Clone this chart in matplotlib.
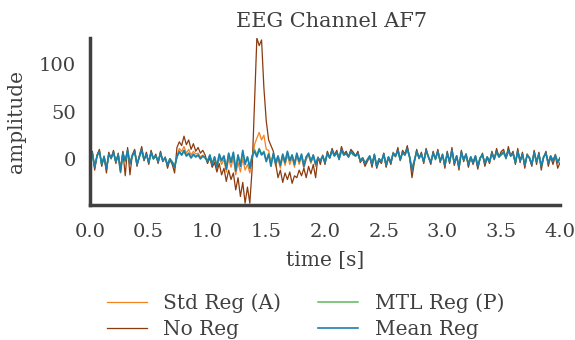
import numpy as np
import matplotlib
matplotlib.use("Agg")
import matplotlib.pyplot as plt

# time axis: 201 samples from 0 to 4 s
t_start, t_end, n_samples = 0.0, 4.0, 201

std_reg = [
    -5, 7, -10, 4, 9, -7, 2, -12, 6, 0,
    8, -4, 5, -15, 7, -3, 10, -6, 4, 9,
    -7, 3, 11, -2, 6, -5, 8, 0, 4, -4,
    7, -3, 1, -8, 0, -5, -10, 3, 11, 8,
    13, 6, 10, 4, 8, 5, 6, 2, 4, 2,
    -4, 2, -8, 0, -11, 1, -6, -1, -14, 0,
    -9, 1, -17, -4, -14, 0, -12, -6, -15, -2,
    15, 22, 28, 20, 25, 10, 9, -4, 4, -8,
    0, -10, 2, -7, 4, -6, 1, -9, 3, -6,
    2, -10, -1, 4, -5, 3, -8, 0, -3, 3,
    -5, 7, 1, 10, 4, 8, 0, 12, 5, 7,
    2, 9, 6, 3, 7, -3, 1, -6, -2, 3,
    -7, 5, -9, 0, -4, 6, -8, 2, -5, 7,
    3, 11, -1, 8, 5, 12, 2, -14, -3, 9,
    1, 6, -4, 10, 2, -5, 7, 0, 9, -3,
    5, -8, 7, -4, 10, -6, 3, -10, 8, -2,
    5, -7, 2, -5, 3, -9, 1, 5, -6, 2,
    -4, 7, 0, 9, 2, 6, 8, 1, 10, 3,
    7, -5, 9, -3, 6, -8, 5, 1, -7, 8,
    -4, 6, -9, 2, 7, -6, 3, -3, 5, -5, 1,
]

no_reg = [
    -6, 8, -12, 4, 10, -8, 3, -15, 7, 0,
    9, -5, 6, -10, 8, -18, 12, -17, 4, 10,
    -8, 3, 13, -2, 7, -6, 9, 0, 5, -5,
    8, -3, 2, -10, -1, -6, -15, 12, 18, 14,
    24, 15, 20, 10, 16, 8, 12, 6, 9, 4,
    -5, 1, -9, -4, -14, -5, -17, -10, -24, -12,
    -22, -15, -33, -20, -40, -25, -47, -30, -47, -10,
    60, 128, 120, 126, 75, 40, 20, 14, 8, -5,
    -20, -12, -25, -15, -22, -14, -26, -18, -20, -12,
    -18, -10, -20, -8, -16, -6, -20, 2, -6, 4,
    -6, 8, 1, 11, 4, 9, -1, 13, 5, 8,
    2, 10, 7, 3, 8, -4, 0, -8, -3, 2,
    -9, 5, -10, -2, -5, 6, -9, 1, -6, 6,
    2, 12, -2, 9, 5, 14, 1, -20, -4, 10,
    0, 7, -5, 11, 2, -6, 8, -1, 10, -4,
    5, -10, 8, -5, 12, -7, 3, -12, 9, -3,
    5, -9, 1, -6, 2, -11, 0, 6, -8, 1,
    -5, 8, -1, 11, 2, 8, 10, 0, 13, 3,
    8, -6, 11, -4, 7, -10, 5, 0, -8, 9,
    -6, 7, -12, 1, 8, -8, 2, -6, 3, -10, -4,
]

mtl_reg = [
    -3, 5, -8, 3, 7, -5, 2, -9, 4, 1,
    6, -3, 4, -12, 5, -2, 8, -4, 3, 7,
    -5, 2, 8, -1, 4, -3, 6, 0, 3, -2,
    5, -2, 1, -6, 0, -3, -7, 2, 7, 4,
    8, 3, 5, 1, 4, 2, 4, 0, 3, 1,
    -2, 4, -5, 2, -7, 4, -2, 3, -9, 5,
    -3, 6, -10, 4, -6, 7, -4, 2, -8, 3,
    10, 4, 11, 5, 8, -2, 5, -6, 5, -4,
    3, -6, 4, -3, 7, -2, 4, -5, 5, -3,
    4, -6, 2, 5, -3, 4, -5, 1, -2, 3,
    -3, 5, 1, 8, 3, 6, 0, 8, 4, 5,
    2, 7, 4, 3, 5, -2, 1, -4, -1, 3,
    -5, 4, -7, 0, -3, 4, -6, 2, -3, 5,
    3, 8, -1, 6, 4, 9, 2, -10, -2, 7,
    1, 4, -3, 8, 2, -3, 5, 0, 7, -2,
    4, -6, 5, -3, 8, -4, 3, -8, 6, -1,
    4, -5, 2, -4, 3, -7, 1, 4, -4, 2,
    -3, 5, 0, 7, 2, 4, 6, 1, 8, 3,
    5, -4, 7, -2, 4, -6, 4, 1, -5, 6,
    -3, 4, -7, 2, 5, -4, 3, -2, 3, -3, 1,
]

mean_reg = [
    -4, 6, -9, 3, 8, -6, 2, -11, 5, 1,
    7, -3, 4, -14, 6, -2, 9, -5, 3, 8,
    -6, 2, 10, -1, 5, -4, 7, 0, 3, -3,
    6, -2, 1, -7, 0, -4, -9, 2, 8, 4,
    9, 3, 6, 1, 5, 2, 4, 0, 3, 1,
    -3, 4, -6, 2, -9, 5, -2, 3, -11, 6,
    -4, 7, -13, 4, -8, 9, -6, 2, -10, 3,
    8, 2, 10, 4, 7, -3, 5, -8, 6, -5,
    3, -7, 5, -4, 8, -2, 4, -6, 6, -3,
    5, -8, 2, 6, -3, 4, -6, 1, -2, 3,
    -4, 6, 1, 9, 3, 7, 0, 10, 4, 6,
    2, 8, 5, 3, 6, -2, 1, -5, -1, 3,
    -6, 4, -8, 0, -3, 5, -7, 2, -4, 6,
    3, 9, -1, 7, 4, 11, 2, -12, -2, 8,
    1, 5, -3, 9, 2, -4, 6, 0, 8, -2,
    4, -7, 6, -3, 9, -5, 3, -9, 7, -1,
    5, -6, 2, -4, 3, -8, 1, 4, -5, 2,
    -3, 6, 0, 8, 2, 5, 7, 1, 9, 3,
    6, -4, 8, -2, 5, -7, 4, 1, -6, 7,
    -3, 5, -8, 2, 6, -5, 3, -2, 4, -4, 1,
]

series_labels = ["Std Reg (A)", "No Reg", "MTL Reg (P)", "Mean Reg"]
xticks = [0.0, 0.5, 1.0, 1.5, 2.0, 2.5, 3.0, 3.5, 4.0]
yticks = [0, 50, 100]

t = np.linspace(t_start, t_end, n_samples)

plt.rcParams["font.family"] = ["DejaVu Serif"]
text_color = "#404040"

fig = plt.figure(figsize=(5.75, 3.4), dpi=100)
ax = fig.add_axes([0.1565, 0.397, 0.974 - 0.1565, 0.888 - 0.397])

colors = ["#f58220", "#8b3a0e", "#5cb85c", "#1c7fae"]
widths = [0.9, 0.9, 1.1, 1.2]
for vals, lab, c, w in zip([std_reg, no_reg, mtl_reg, mean_reg], series_labels, colors, widths):
    ax.plot(t, vals, color=c, lw=w, label=lab)

ax.set_xlim(0, 4)
ax.set_ylim(-49, 128)
ax.set_xticks(xticks)
ax.set_xticklabels([f"{v:.1f}" for v in xticks])
ax.set_yticks(yticks)
ax.tick_params(axis="both", length=0, labelsize=14, colors=text_color)
ax.tick_params(axis="x", pad=13)
ax.tick_params(axis="y", pad=10)
for s in ["top", "right"]:
    ax.spines[s].set_visible(False)
for s in ["left", "bottom"]:
    ax.spines[s].set_color(text_color)
    ax.spines[s].set_linewidth(2.5)

ax.set_title("EEG Channel AF7", fontsize=15, color=text_color, pad=8, x=0.513)
ax.set_xlabel("time [s]", fontsize=14.5, color=text_color, labelpad=7)
ax.set_ylabel("amplitude", fontsize=14.5, color=text_color, labelpad=9)

leg = ax.legend(loc="upper center", bbox_to_anchor=(0.458, -0.42), ncol=2,
                frameon=False, fontsize=14.5, handlelength=2.0,
                handletextpad=0.8, columnspacing=1.85, labelspacing=0.33)
for txt in leg.get_texts():
    txt.set_color(text_color)

fig.savefig("out.png", dpi=100)
